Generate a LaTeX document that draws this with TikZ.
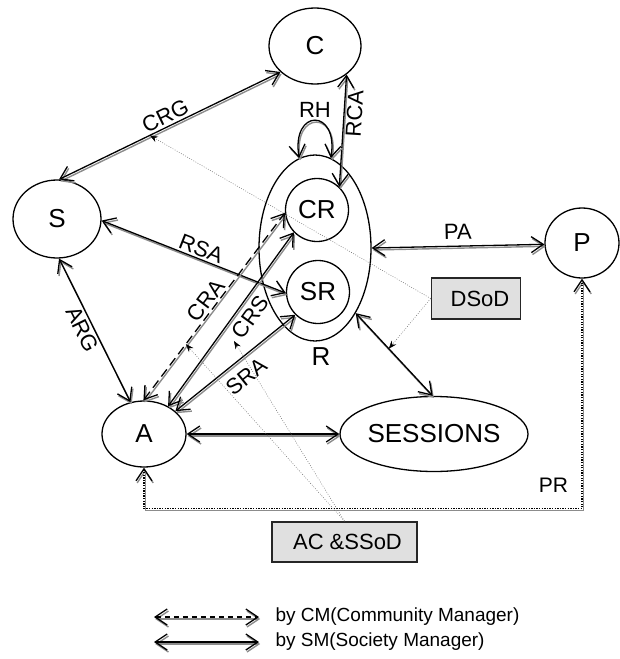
\documentclass[tikz,border=0pt]{standalone}
\usepackage{fontspec}
\setmainfont{Liberation Sans}
\usetikzlibrary{arrows.meta,shapes.geometric}
\begin{document}
\begin{tikzpicture}[x=1pt,y=-1pt,
  every node/.style={font=\fontsize{26}{30}\selectfont},
  state/.style={draw, ellipse, line width=1.3pt, inner sep=0pt},
  notebox/.style={draw=black!85, line width=1.6pt, fill=black!12, inner sep=0pt,
    font=\fontsize{22}{26}\selectfont},
  lab/.style={font=\fontsize{22}{26}\selectfont, sloped, inner sep=2pt},
  legendtext/.style={font=\fontsize{19}{22}\selectfont, anchor=west},
  link/.style={<->, >={Straight Barb[length=12pt,width=16pt]}, line width=1.3pt,
    preaction={draw=black!45, line width=1.4pt,
      transform canvas={xshift=1.2pt, yshift=-2pt}}},
  prlink/.style={link, dash pattern=on 1.3pt off 1.3pt},
  ann/.style={draw=black!60, line width=0.5pt, dash pattern=on 0.8pt off 1.6pt,
    -{Stealth[length=8pt,width=6pt,black]}}
]
\useasboundingbox (0,0) rectangle (619,659);

% states
\node[state, minimum width=92, minimum height=76] (C) at (315,46) {C};
\node[state, minimum width=88, minimum height=78] (S) at (57,219) {S};
\node[state, minimum width=112, minimum height=186] (R) at (315,248) {};
\node[state, circle, minimum size=63] (CR) at (317,210) {CR};
\node[state, circle, minimum size=63] (SR) at (318,292) {SR};
\node (Rlab) at (321,357) {R};
\node[state, minimum width=74, minimum height=70] (P) at (582,243) {P};
\node[state, minimum width=84, minimum height=66] (A) at (144,434) {A};
\node[state, minimum width=180, minimum height=75] (SESSIONS) at (434,434) {SESSIONS};

% constraint boxes
\node[notebox, minimum width=89, minimum height=41] (DSoD) at (476,298.5) {\hspace*{8pt}DSoD};
\node[notebox, minimum width=145, minimum height=40] (ACS) at (344.5,542) {\hspace*{6pt}AC \&SSoD};

% relations
\draw[link] (S.87) -- node[lab, above] {CRG} coordinate[pos=0.41] (crgm) (C.217);
\draw[link] (CR.46) -- node[lab, below, pos=0.66] {RCA} (C.318);
\draw[link] (R.100) .. controls +(-8,-50) and +(8,-50) .. node[lab, above] {RH} (R.80);
\draw[link] (S.-2) -- node[lab, above, pos=0.52] {RSA} (SR.182);
\draw[link] (R.0) -- node[lab, above=4pt] {PA} (P.182);
\draw[link] (S.273) -- node[lab, below, pos=0.46] {ARG} (A.113);
\draw[link, dash pattern=on 9pt off 5pt] (A.91) -- node[lab, above, pos=0.5] {CRA}
  coordinate[pos=0.30] (cram) (CR.185);
\draw[link] (A.49) -- node[lab, below=4pt, pos=0.56] {CRS} (CR.224);
\draw[link] (A.36) -- node[lab, below=7pt, pos=0.5] {SRA} (SR.225);
\draw[link] (R.302) -- coordinate[pos=0.43] (rsm) (SESSIONS.92);
\draw[link] (A.0) -- (SESSIONS.180);
\draw[prlink] (A.south) -- ++(0,41) -| node[pos=0.5, anchor=south east,
  font=\fontsize{21}{24}\selectfont, xshift=-10pt, yshift=12pt] {PR} (P.south);

% constraint annotations
\coordinate (crsnote) at (234,341);
\draw[ann] (DSoD.west) -- (crgm);
\draw[ann] (DSoD.west) -- (rsm);
\draw[ann] (ACS.north) -- (cram);
\draw[ann] (ACS.north) -- (crsnote);

% legend
\coordinate (l1a) at (154,617);
\coordinate (l1b) at (259,617);
\coordinate (l2a) at (154,642);
\coordinate (l2b) at (259,642);
\draw[link, dash pattern=on 5pt off 4pt] (l1a) -- (l1b);
\draw[link] (l2a) -- (l2b);
\node[legendtext] (t1) at (272,617) {by CM(Community Manager)};
\node[legendtext] (t2) at (272,642) {by SM(Society Manager)};
\end{tikzpicture}
\end{document}
